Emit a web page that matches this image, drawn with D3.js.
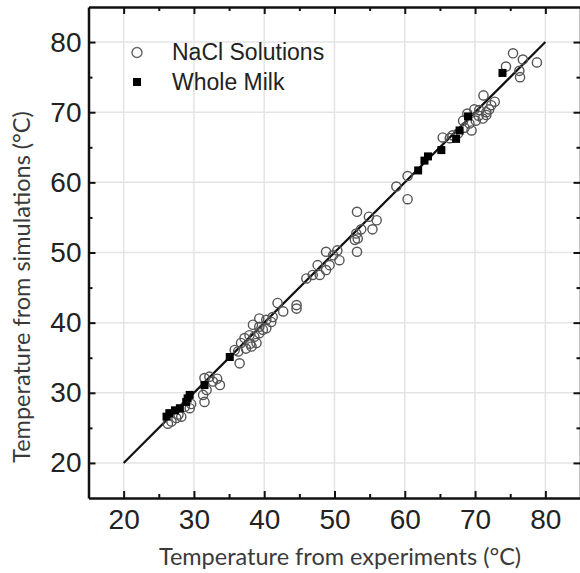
<!DOCTYPE html>
<html>
<head>
<meta charset="utf-8">
<script src="https://cdn.jsdelivr.net/npm/d3@7"></script>
<style>
  body { margin: 0; background: #fff; }
  .grid line { stroke: #e4e4e4; stroke-width: 1.5; }
  .axis path, .axis line { stroke: #111; }
  .axis path { stroke-width: 2.5; }
  .axis line { stroke-width: 2; }
  .axis text { font-family: "Liberation Sans", Arial, sans-serif; font-size: 28px; fill: #222; }
</style>
</head>
<body>
<div id="chart"></div>
<script>
// NaCl solutions: experiment temperature vs simulated temperature
var naclX = [75.4, 76.8, 78.8, 74.4, 76.3, 76.4, 71.2, 72.8, 69.9, 70.6, 71.6, 72.0,
             68.3, 69.2, 70.1, 71.1, 71.6, 68.5, 69.5, 65.4, 66.4, 66.8, 60.4, 58.8,
             60.4, 53.2, 54.9, 56.0, 55.4, 53.8, 53.1, 53.3, 52.9, 53.2,
             48.8, 49.8, 50.7, 50.4, 47.6, 48.8, 49.3, 46.0, 46.9, 47.9,
             41.9, 42.7, 44.6, 44.6, 39.3, 40.3, 41.0, 41.2, 38.4, 39.3, 40.3,
             37.2, 37.9, 38.6, 39.3, 36.7, 37.4, 38.2, 38.9, 35.8, 36.3, 36.5,
             31.5, 32.2, 33.7, 32.7, 31.3, 31.5, 31.8, 28.7, 29.4,
             26.8, 27.5, 28.2, 26.3,
             27.8, 29.6, 33.3, 38.0, 39.8, 67.6, 70.5, 72.3, 68.9];
var naclY = [78.4, 77.5, 77.1, 76.5, 75.9, 75.0, 72.4, 71.5, 70.4, 70.3, 70.0, 70.4,
             68.8, 68.4, 68.8, 69.1, 69.6, 67.8, 67.4, 66.4, 66.3, 66.7, 60.9, 59.4,
             57.6, 55.8, 55.1, 54.6, 53.3, 53.3, 52.7, 52.0, 51.8, 50.1,
             50.1, 49.6, 48.9, 50.3, 48.2, 47.5, 48.2, 46.3, 46.8, 46.8,
             42.8, 41.6, 42.5, 42.0, 40.6, 40.4, 40.1, 40.8, 39.7, 39.4, 39.2,
             37.8, 38.2, 38.0, 38.5, 37.1, 36.3, 36.6, 37.1, 36.1, 35.9, 34.2,
             32.1, 32.3, 31.1, 31.6, 29.7, 28.7, 30.4, 28.0, 27.8,
             25.9, 26.4, 26.6, 25.6,
             26.9, 28.4, 32.0, 37.0, 39.0, 67.0, 69.5, 71.0, 69.8];

// whole milk
var milkX = [26.1, 26.5, 27.3, 28.0, 28.9, 29.1, 29.4, 31.5, 35.1,
             61.9, 62.8, 63.3, 65.2, 67.3, 67.8, 69.0, 73.9];
var milkY = [26.6, 27.1, 27.5, 27.8, 28.7, 29.2, 29.7, 31.1, 35.1,
             61.7, 63.1, 63.7, 64.6, 66.2, 67.4, 69.4, 75.6];

var lineX = [20, 80];
var majorTicks = [20, 30, 40, 50, 60, 70, 80];
var minorTicks = [25, 35, 45, 55, 65, 75];

var seriesNames = ["NaCl Solutions", "Whole Milk"];
var xTitle = "Temperature from experiments (°C)";
var yTitle = "Temperature from simulations (°C)";

var width = 580, height = 573;

var svg = d3.select("#chart").append("svg")
    .attr("width", width)
    .attr("height", height);

var x = d3.scaleLinear().domain([15, 85]).range([88.5, 580.5]);
var y = d3.scaleLinear().domain([15, 85]).range([498, 7]);

// grid
var grid = svg.append("g").attr("class", "grid");
grid.selectAll(".gx").data(majorTicks).enter().append("line")
    .attr("x1", d => x(d)).attr("x2", d => x(d))
    .attr("y1", y(85)).attr("y2", y(15));
grid.selectAll(".gy").data(majorTicks).enter().append("line")
    .attr("y1", d => y(d)).attr("y2", d => y(d))
    .attr("x1", x(15)).attr("x2", x(85));

// 1:1 line
svg.append("line")
    .attr("x1", x(lineX[0])).attr("y1", y(lineX[0]))
    .attr("x2", x(lineX[1])).attr("y2", y(lineX[1]))
    .attr("stroke", "#111")
    .attr("stroke-width", 2.2);

// points
var nacl = naclX.map(function(d, i) { return {x: d, y: naclY[i]}; });
var milk = milkX.map(function(d, i) { return {x: d, y: milkY[i]}; });

svg.append("g").selectAll("circle").data(nacl).enter().append("circle")
    .attr("cx", d => x(d.x))
    .attr("cy", d => y(d.y))
    .attr("r", 4.6)
    .attr("fill", "none")
    .attr("stroke", "#555")
    .attr("stroke-width", 1.4);

var sq = 8;
svg.append("g").selectAll("rect").data(milk).enter().append("rect")
    .attr("x", d => x(d.x) - sq / 2)
    .attr("y", d => y(d.y) - sq / 2)
    .attr("width", sq)
    .attr("height", sq)
    .attr("fill", "#000");

// axes (ticks inward)
function minor(axis) {
  return axis.tickValues(minorTicks).tickSize(-4).tickFormat("");
}

svg.append("g").attr("class", "axis")
    .attr("transform", "translate(0," + y(15) + ")")
    .call(d3.axisBottom(x).tickValues(majorTicks).tickSizeInner(-7).tickSizeOuter(0).tickPadding(11));
svg.append("g").attr("class", "axis")
    .attr("transform", "translate(0," + y(15) + ")")
    .call(minor(d3.axisBottom(x)).tickSizeOuter(0))
    .select(".domain").remove();

svg.append("g").attr("class", "axis")
    .attr("transform", "translate(" + x(15) + ",0)")
    .call(d3.axisLeft(y).tickValues(majorTicks).tickSizeInner(-7).tickSizeOuter(0).tickPadding(7));
svg.append("g").attr("class", "axis")
    .attr("transform", "translate(" + x(15) + ",0)")
    .call(minor(d3.axisLeft(y)).tickSizeOuter(0))
    .select(".domain").remove();

svg.append("g").attr("class", "axis")
    .attr("transform", "translate(0," + y(85) + ")")
    .call(d3.axisTop(x).tickValues(majorTicks).tickSizeInner(-7).tickSizeOuter(0).tickFormat(""));
svg.append("g").attr("class", "axis")
    .attr("transform", "translate(0," + y(85) + ")")
    .call(minor(d3.axisTop(x)).tickSizeOuter(0))
    .select(".domain").remove();

svg.append("g").attr("class", "axis")
    .attr("transform", "translate(" + x(85) + ",0)")
    .call(d3.axisRight(y).tickValues(majorTicks).tickSizeInner(-7).tickSizeOuter(0).tickFormat(""));
svg.append("g").attr("class", "axis")
    .attr("transform", "translate(" + x(85) + ",0)")
    .call(minor(d3.axisRight(y)).tickSizeOuter(0))
    .select(".domain").remove();

// legend
var legend = svg.append("g").attr("transform", "translate(137,0)");
legend.append("circle")
    .attr("cx", 0).attr("cy", 52.5).attr("r", 5)
    .attr("fill", "none").attr("stroke", "#666").attr("stroke-width", 1.4);
legend.append("rect")
    .attr("x", -sq / 2).attr("y", 82 - sq / 2)
    .attr("width", sq).attr("height", sq).attr("fill", "#000");
legend.selectAll("text").data(seriesNames).enter().append("text")
    .attr("x", 35)
    .attr("y", (d, i) => 60 + i * 30)
    .attr("font-family", "Liberation Sans, Arial, sans-serif")
    .attr("font-size", "23px")
    .attr("fill", "#222")
    .text(d => d);

// axis titles
svg.append("text")
    .attr("x", 340)
    .attr("y", 565)
    .attr("text-anchor", "middle")
    .attr("font-family", "Lato, sans-serif")
    .attr("font-size", "23.5px")
    .attr("fill", "#3a3a3a")
    .text(xTitle);

svg.append("text")
    .attr("transform", "translate(30,287) rotate(-90)")
    .attr("text-anchor", "middle")
    .attr("font-family", "Lato, sans-serif")
    .attr("font-size", "23.5px")
    .attr("fill", "#3a3a3a")
    .text(yTitle);
</script>
</body>
</html>
